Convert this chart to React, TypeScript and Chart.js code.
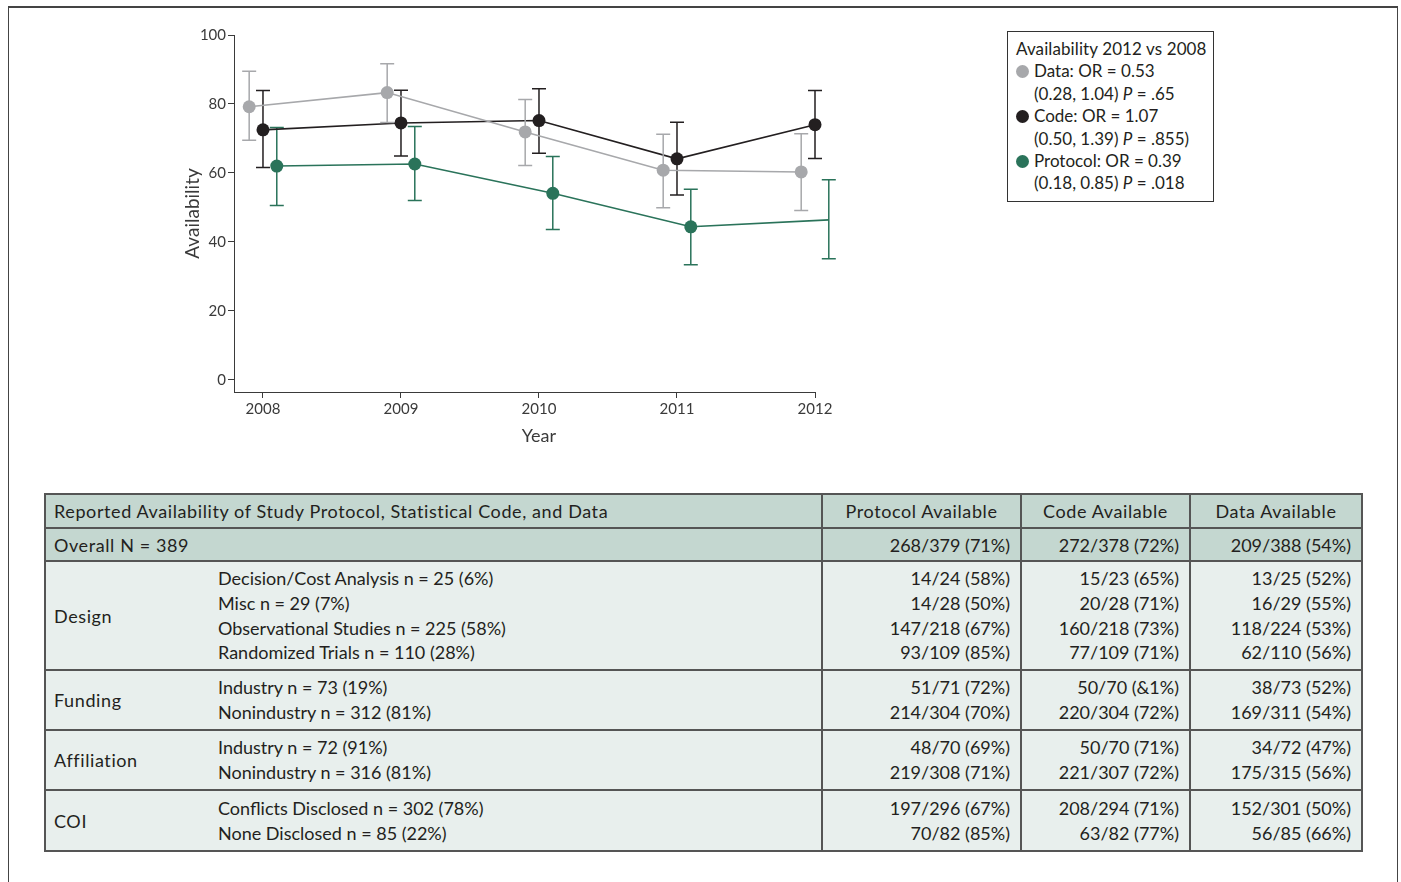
import React, { useEffect, useRef } from "react";
import { Chart, registerables } from "chart.js";

Chart.register(...registerables);

// ---------- data ----------
const years = [2008, 2009, 2010, 2011, 2012];
const yTicks = [0, 20, 40, 60, 80, 100];

const dataMean = [79.2, 83.3, 71.9, 60.8, 60.3];
const dataLow = [69.5, 74.6, 62.2, 49.9, 49.1];
const dataHigh = [89.5, 91.7, 81.3, 71.2, 71.4];

const codeMean = [72.5, 74.5, 75.2, 64.1, 74.0];
const codeLow = [61.6, 64.9, 65.7, 53.6, 64.2];
const codeHigh = [83.9, 84.0, 84.4, 74.7, 83.9];

const protocolMean = [62.0, 62.6, 54.1, 44.4, 46.4];
const protocolLow = [50.6, 52.0, 43.6, 33.4, 35.1];
const protocolHigh = [73.2, 73.5, 64.8, 55.3, 58.0];

const xTitle = "Year";
const yTitle = "Availability";

const legendTitle = "Availability 2012 vs 2008";
const legendNames = ["Data: OR = 0.53", "Code: OR = 1.07", "Protocol: OR = 0.39"];
const legendCI = ["(0.28, 1.04)", "(0.50, 1.39)", "(0.18, 0.85)"];
const legendP = [".65", ".855)", ".018"];

const tableTitle = "Reported Availability of Study Protocol, Statistical Code, and Data";
const colHeaders = ["Protocol Available", "Code Available", "Data Available"];
const overallLabel = "Overall N = 389";
const overallValues = ["268/379 (71%)", "272/378 (72%)", "209/388 (54%)"];

const groupNames = ["Design", "Funding", "Affiliation", "COI"];
const groupItems = [
  ["Decision/Cost Analysis n = 25 (6%)", "Misc n = 29 (7%)", "Observational Studies n = 225 (58%)", "Randomized Trials n = 110 (28%)"],
  ["Industry n = 73 (19%)", "Nonindustry n = 312 (81%)"],
  ["Industry n = 72 (91%)", "Nonindustry n = 316 (81%)"],
  ["Conflicts Disclosed n = 302 (78%)", "None Disclosed n = 85 (22%)"],
];
const protocolCol = [
  ["14/24 (58%)", "14/28 (50%)", "147/218 (67%)", "93/109 (85%)"],
  ["51/71 (72%)", "214/304 (70%)"],
  ["48/70 (69%)", "219/308 (71%)"],
  ["197/296 (67%)", "70/82 (85%)"],
];
const codeCol = [
  ["15/23 (65%)", "20/28 (71%)", "160/218 (73%)", "77/109 (71%)"],
  ["50/70 (&1%)", "220/304 (72%)"],
  ["50/70 (71%)", "221/307 (72%)"],
  ["208/294 (71%)", "63/82 (77%)"],
];
const dataCol = [
  ["13/25 (52%)", "16/29 (55%)", "118/224 (53%)", "62/110 (56%)"],
  ["38/73 (52%)", "169/311 (54%)"],
  ["34/72 (47%)", "175/315 (56%)"],
  ["152/301 (50%)", "56/85 (66%)"],
];

// ---------- styles ----------
const GRAY = "#a7a8ab";
const BLACK = "#231f20";
const GREEN = "#2a735a";
const AXIS = "#3a3a3a";
const FONT = "Lato, 'Noto Sans', sans-serif";
const HEAD_BG = "#c4d7d0";
const BODY_BG = "#e8efed";
const BORDER = "2px solid #555";

const series = [
  { label: "Data", mean: dataMean, low: dataLow, high: dataHigh, color: GRAY, offset: -0.1 },
  { label: "Code", mean: codeMean, low: codeLow, high: codeHigh, color: BLACK, offset: 0 },
  { label: "Protocol", mean: protocolMean, low: protocolLow, high: protocolHigh, color: GREEN, offset: 0.1 },
];

const errorBarPlugin = {
  id: "errorBars",
  beforeDatasetDraw(chart: any, args: any) {
    const s = series[args.index];
    if (!s) return;
    const ctx = chart.ctx;
    const xs = chart.scales.x;
    const ys = chart.scales.y;
    const cap = 7;
    ctx.save();
    ctx.strokeStyle = s.color;
    ctx.lineWidth = 1.5;
    years.forEach((yr, i) => {
      const x = xs.getPixelForValue(yr + s.offset);
      const yl = ys.getPixelForValue(s.low[i]);
      const yh = ys.getPixelForValue(s.high[i]);
      ctx.beginPath();
      ctx.moveTo(x, yl);
      ctx.lineTo(x, yh);
      ctx.moveTo(x - cap, yl);
      ctx.lineTo(x + cap, yl);
      ctx.moveTo(x - cap, yh);
      ctx.lineTo(x + cap, yh);
      ctx.stroke();
    });
    ctx.restore();
  },
  afterDraw(chart: any) {
    // x-axis title centred on the middle of the year range
    const ctx = chart.ctx;
    const xs = chart.scales.x;
    const mid = (years[0] + years[years.length - 1]) / 2;
    ctx.save();
    ctx.fillStyle = AXIS;
    ctx.font = `18px ${FONT}`;
    ctx.textAlign = "center";
    ctx.textBaseline = "middle";
    ctx.fillText(xTitle, xs.getPixelForValue(mid), xs.bottom - 24);
    ctx.restore();
  },
};

function LineChart() {
  const ref = useRef<HTMLCanvasElement | null>(null);
  useEffect(() => {
    if (!ref.current) return;
    const chart = new Chart(ref.current, {
      type: "line",
      data: {
        datasets: series.map((s) => ({
          label: s.label,
          data: years.map((yr, i) => ({ x: yr + s.offset, y: s.mean[i] })),
          borderColor: s.color,
          backgroundColor: s.color,
          pointBackgroundColor: s.color,
          pointBorderColor: s.color,
          pointRadius: 6.5,
          pointBorderWidth: 0,
          borderWidth: 1.6,
          tension: 0,
          fill: false,
          clip: false,
        })),
      },
      options: {
        responsive: false,
        animation: false,
        events: [],
        layout: { padding: { top: 15, right: 35, left: 0, bottom: 0 } },
        plugins: { legend: { display: false }, tooltip: { enabled: false } },
        scales: {
          x: {
            type: "linear",
            min: 2007.79,
            max: 2012,
            afterBuildTicks: (scale: any) => {
              scale.ticks = years.map((v) => ({ value: v }));
            },
            afterFit: (scale: any) => {
              scale.height = 68;
            },
            ticks: {
              callback: (v: any) => String(v),
              color: AXIS,
              font: { family: FONT, size: 15 },
              padding: 2,
              maxRotation: 0,
              autoSkip: false,
            },
            grid: { display: true, drawOnChartArea: false, drawTicks: true, tickLength: 6, color: AXIS, lineWidth: 1 },
            border: { display: true, color: AXIS, width: 1 },
            title: { display: false },
          },
          y: {
            type: "linear",
            min: -3.5,
            max: 100,
            afterBuildTicks: (scale: any) => {
              scale.ticks = yTicks.map((v) => ({ value: v }));
            },
            afterFit: (scale: any) => {
              scale.width = 64;
            },
            ticks: {
              color: AXIS,
              font: { family: FONT, size: 15 },
              padding: 2,
            },
            grid: { display: true, drawOnChartArea: false, drawTicks: true, tickLength: 6, color: AXIS, lineWidth: 1 },
            border: { display: true, color: AXIS, width: 1 },
            title: {
              display: true,
              text: yTitle,
              color: AXIS,
              font: { family: FONT, size: 19 },
              padding: { top: 11, bottom: 0 },
            },
          },
        },
      },
      plugins: [errorBarPlugin],
    } as any);
    return () => chart.destroy();
  }, []);
  return (
    <canvas
      ref={ref}
      width={680}
      height={440}
      style={{ position: "absolute", left: 170, top: 20, width: 680, height: 440, display: "block" }}
    />
  );
}

function Legend() {
  const colors = [GRAY, BLACK, GREEN];
  const lh = 22.4;
  return (
    <div
      style={{
        position: "absolute",
        left: 1007,
        top: 31,
        width: 207,
        height: 171,
        border: "1px solid #333",
        background: "#fff",
        fontFamily: FONT,
        fontSize: 17,
        color: BLACK,
        lineHeight: `${lh}px`,
        padding: "6px 0 0 8px",
        boxSizing: "border-box",
        whiteSpace: "nowrap",
      }}
    >
      <div style={{ letterSpacing: 0.1 }}>{legendTitle}</div>
      {legendNames.map((n, i) => (
        <div key={i}>
          <div style={{ display: "flex", alignItems: "center" }}>
            <span
              style={{
                display: "inline-block",
                width: 13,
                height: 13,
                borderRadius: "50%",
                background: colors[i],
                marginRight: 5,
              }}
            />
            <span>{n}</span>
          </div>
          <div style={{ paddingLeft: 18 }}>
            {legendCI[i]} <i>P</i> = {legendP[i]}
          </div>
        </div>
      ))}
    </div>
  );
}

function Table() {
  const rowHeights = [109, 60, 60, 61];
  const lineH = 24.6;
  const cellBase: React.CSSProperties = {
    border: BORDER,
    padding: 0,
    verticalAlign: "middle",
  };
  const wide: React.CSSProperties = { letterSpacing: 0.6 };
  const numCell = (lines: string[], key: string) => (
    <td key={key} style={{ ...cellBase, background: BODY_BG, textAlign: "right", paddingRight: 10 }}>
      {lines.map((l, i) => (
        <div key={i} style={{ lineHeight: `${lineH}px` }}>{l}</div>
      ))}
    </td>
  );
  return (
    <table
      style={{
        position: "absolute",
        left: 44,
        top: 493,
        width: 1318,
        borderCollapse: "collapse",
        tableLayout: "fixed",
        fontFamily: FONT,
        fontSize: 18,
        color: BLACK,
        whiteSpace: "nowrap",
      }}
    >
      <colgroup>
        <col style={{ width: 166 }} />
        <col style={{ width: 611 }} />
        <col style={{ width: 199 }} />
        <col style={{ width: 169 }} />
        <col style={{ width: 172 }} />
      </colgroup>
      <tbody>
        <tr style={{ height: 34 }}>
          <td colSpan={2} style={{ ...cellBase, ...wide, background: HEAD_BG, paddingLeft: 8 }}>{tableTitle}</td>
          {colHeaders.map((h, i) => (
            <td key={i} style={{ ...cellBase, ...wide, background: HEAD_BG, textAlign: "center" }}>{h}</td>
          ))}
        </tr>
        <tr style={{ height: 33 }}>
          <td colSpan={2} style={{ ...cellBase, ...wide, background: HEAD_BG, paddingLeft: 8 }}>{overallLabel}</td>
          {overallValues.map((v, i) => (
            <td key={i} style={{ ...cellBase, background: HEAD_BG, textAlign: "right", paddingRight: 10 }}>{v}</td>
          ))}
        </tr>
        {groupNames.map((g, gi) => (
          <tr key={g} style={{ height: rowHeights[gi] }}>
            <td style={{ ...cellBase, ...wide, background: BODY_BG, borderRight: "none", paddingLeft: 8 }}>{g}</td>
            <td style={{ ...cellBase, background: BODY_BG, borderLeft: "none", paddingLeft: 7 }}>
              {groupItems[gi].map((l, i) => (
                <div key={i} style={{ lineHeight: `${lineH}px` }}>{l}</div>
              ))}
            </td>
            {numCell(protocolCol[gi], "p")}
            {numCell(codeCol[gi], "c")}
            {numCell(dataCol[gi], "d")}
          </tr>
        ))}
      </tbody>
    </table>
  );
}

export default function App() {
  return (
    <div
      style={{
        position: "absolute",
        left: 0,
        top: 0,
        width: 1401,
        height: 882,
        overflow: "hidden",
        background: "#fff",
      }}
    >
      <div
        style={{
          position: "absolute",
          left: 8,
          top: 6,
          width: 1390,
          height: 900,
          borderTop: "2px solid #444",
          borderLeft: "1px solid #444",
          borderRight: "1px solid #444",
          boxSizing: "border-box",
        }}
      />
      <LineChart />
      <Legend />
      <Table />
    </div>
  );
}
